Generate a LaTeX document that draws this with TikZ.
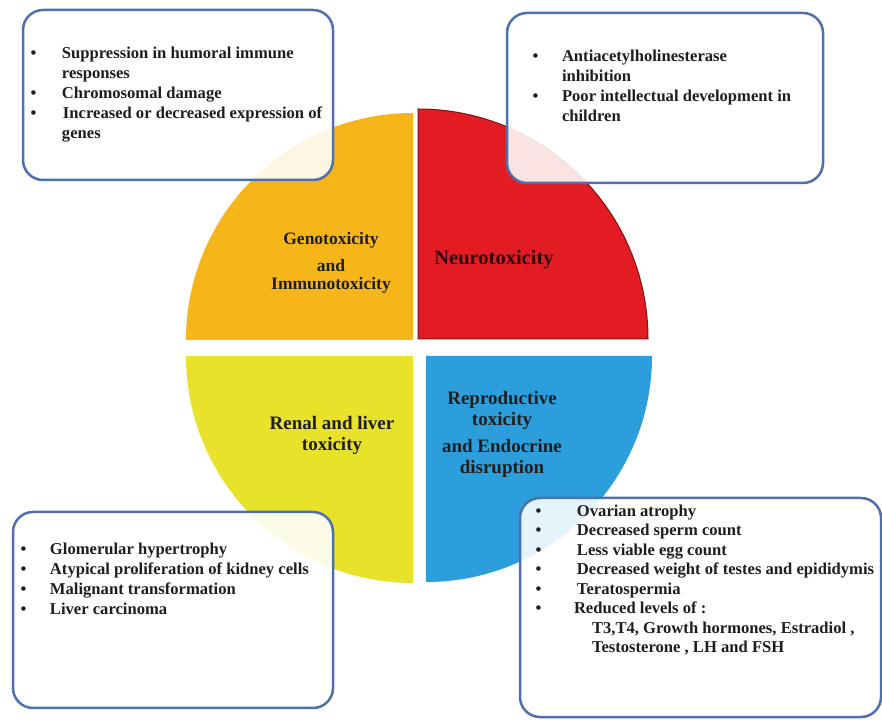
\documentclass[tikz,border=0pt]{standalone}
\usepackage{fontspec}
\setmainfont{Liberation Serif}
\usetikzlibrary{positioning}
\definecolor{cOrange}{RGB}{246,182,26}
\definecolor{cRed}{RGB}{227,28,36}
\definecolor{cRedEdge}{RGB}{120,20,20}
\definecolor{cYellow}{RGB}{232,226,42}
\definecolor{cBlue}{RGB}{44,158,220}
\definecolor{cFrame}{RGB}{78,112,172}
\definecolor{cInk}{RGB}{30,30,30}
\tikzset{
	infobox/.style   ={rectangle, rounded corners=20pt, draw=cFrame, line width=2.5pt, fill=white, fill opacity=0.88, inner sep=0pt, outer sep=0pt},
	itemlist/.style  ={inner sep=0pt, outer sep=0pt, anchor=north west, text=cInk, font=\bfseries\fontsize{16.6}{20}\selectfont},
	sectorlabel/.style={align=center, inner sep=0pt, text=cInk, font=\bfseries\fontsize{19}{21}\selectfont},
}
\newcommand{\bul}[1][30pt]{\makebox[#1][l]{\textbullet}}

\begin{document}
\begin{tikzpicture}[x=1pt, y=1pt]
	\useasboundingbox (0,0) rectangle (882,719);
	% four quarters of the disc
	\fill[cOrange] (413,379) -- ++(-227,0) arc[start angle=180, end angle=90, radius=227pt] -- cycle;
	\filldraw[fill=cRed, draw=cRedEdge, line width=1pt] (418,380) -- ++(0,230) arc[start angle=90, end angle=0, radius=230pt] -- cycle;
	\fill[cYellow] (413,363) -- ++(-227,0) arc[start angle=180, end angle=270, radius=227pt] -- cycle;
	\fill[cBlue] (426,363) -- ++(226,0) arc[start angle=0, end angle=-90, radius=226pt] -- cycle;

	\node[sectorlabel, font=\bfseries\fontsize{17.5}{18}\selectfont] (genolabel) at (331,456) {Genotoxicity\\[9pt] and\\ Immunotoxicity};
	\node[sectorlabel, text=cRedEdge!40!black, font=\bfseries\fontsize{20.5}{21}\selectfont] (neurolabel) at (494,459) {Neurotoxicity};
	\node[sectorlabel] (renallabel) at (332,284) {Renal and liver\\ toxicity};
	\node[sectorlabel] (reprolabel) at (502,285) {Reproductive\\ toxicity\\[6pt] and Endocrine\\ disruption};

	% effect boxes
	\node[infobox, minimum width=310pt, minimum height=170pt] (genobox) at (178,624) {};
	\node[infobox, minimum width=316pt, minimum height=170pt] (neurobox) at (665,621) {};
	\node[infobox, minimum width=320pt, minimum height=196pt] (renalbox) at (173,109) {};
	\node[infobox, minimum width=361pt, minimum height=219pt] (reprobox) at (700.5,111.5) {};

	\node[itemlist] (genotext) at ([xshift=7.5pt, yshift=-35pt]genobox.north west) {%
		\begin{tabular}{@{}l@{}}
			\bul[31.5pt]Suppression  in humoral  immune\\
			\hspace*{31.5pt}responses\\
			\bul[31.5pt]Chromosomal  damage\\
			\bul[32.5pt]Increased  or decreased  expression of\\
			\hspace*{31.5pt}genes
		\end{tabular}};
	\node[itemlist] (neurotext) at ([xshift=25.5pt, yshift=-35pt]neurobox.north west) {%
		\begin{tabular}{@{}l@{}}
			\bul[29.5pt]Antiacetylholinesterase\\
			\hspace*{29.5pt}inhibition\\
			\bul[29.5pt]Poor  intellectual development  in\\
			\hspace*{29.5pt}children
		\end{tabular}};
	\node[itemlist] (renaltext) at ([xshift=7.5pt, yshift=-29pt]renalbox.north west) {%
		\begin{tabular}{@{}l@{}}
			\bul[29.5pt]Glomerular  hypertrophy\\
			\bul[29.5pt]Atypical  proliferation  of kidney cells\\
			\bul[29.5pt]Malignant  transformation\\
			\bul[29.5pt]Liver  carcinoma
		\end{tabular}};
	\node[itemlist, font=\bfseries\fontsize{16.6}{19.5}\selectfont] (reprotext) at ([xshift=15.5pt, yshift=-4.5pt]reprobox.north west) {%
		\begin{tabular}{@{}l@{}}
			\bul[41.5pt]Ovarian  atrophy\\
			\bul[41.5pt]Decreased  sperm  count\\
			\bul[41.5pt]Less viable  egg count\\
			\bul[41.5pt]Decreased  weight  of  testes and  epididymis\\
			\bul[41.5pt]Teratospermia\\
			\bul[38.5pt]Reduced  levels of :\\
			\hspace*{56.5pt}T3,T4, Growth  hormones, Estradiol  ,\\
			\hspace*{56.5pt}Testosterone  , LH and  FSH
		\end{tabular}};
\end{tikzpicture}
\end{document}
